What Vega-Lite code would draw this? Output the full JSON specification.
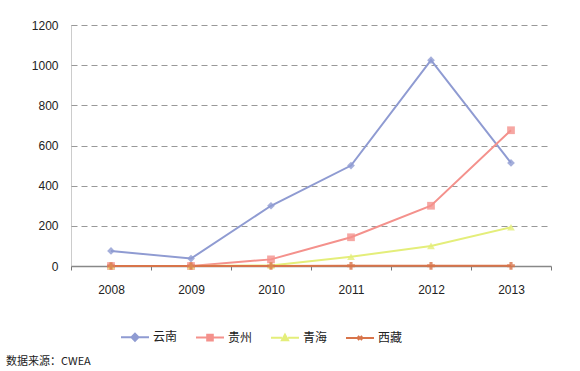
{
  "$schema": "https://vega.github.io/schema/vega-lite/v6.json",
  "width": 480,
  "height": 241,
  "autosize": {"type": "none"},
  "padding": {"left": 71, "top": 25, "right": 29, "bottom": 105},
  "background": "white",
  "config": {
    "font": "Liberation Sans",
    "view": {"stroke": null},
    "title": {"font": "Noto Sans CJK SC"}
  },
  "title": {
    "text": "数据来源：CWEA",
    "orient": "bottom",
    "anchor": "start",
    "frame": "group",
    "fontSize": 11,
    "fontWeight": "normal",
    "color": "#222",
    "offset": 11,
    "dx": -65
  },
  "data": {
    "values": [
      {"year": "2008", "region": "云南", "value": 75},
      {"year": "2009", "region": "云南", "value": 37},
      {"year": "2010", "region": "云南", "value": 300},
      {"year": "2011", "region": "云南", "value": 500},
      {"year": "2012", "region": "云南", "value": 1025},
      {"year": "2013", "region": "云南", "value": 513},
      {"year": "2008", "region": "贵州", "value": 0},
      {"year": "2009", "region": "贵州", "value": 0},
      {"year": "2010", "region": "贵州", "value": 33},
      {"year": "2011", "region": "贵州", "value": 143},
      {"year": "2012", "region": "贵州", "value": 300},
      {"year": "2013", "region": "贵州", "value": 676},
      {"year": "2008", "region": "青海", "value": 0},
      {"year": "2009", "region": "青海", "value": 0},
      {"year": "2010", "region": "青海", "value": 3},
      {"year": "2011", "region": "青海", "value": 46},
      {"year": "2012", "region": "青海", "value": 100},
      {"year": "2013", "region": "青海", "value": 193},
      {"year": "2008", "region": "西藏", "value": 0},
      {"year": "2009", "region": "西藏", "value": 0},
      {"year": "2010", "region": "西藏", "value": 0},
      {"year": "2011", "region": "西藏", "value": 1},
      {"year": "2012", "region": "西藏", "value": 1},
      {"year": "2013", "region": "西藏", "value": 1}
    ]
  },
  "encoding": {
    "x": {
      "field": "year",
      "type": "ordinal",
      "scale": {"type": "band", "paddingInner": 0, "paddingOuter": 0},
      "axis": {
        "title": null,
        "labelAngle": 0,
        "labelFontSize": 12,
        "labelColor": "#222",
        "labelPadding": 14,
        "tickBand": "extent",
        "tickSize": 4,
        "tickColor": "#777",
        "domainColor": "#888",
        "domainWidth": 1.5,
        "grid": false
      }
    },
    "y": {
      "field": "value",
      "type": "quantitative",
      "scale": {"domain": [0, 1200]},
      "axis": {
        "title": null,
        "values": [0, 200, 400, 600, 800, 1000, 1200],
        "format": "d",
        "labelFontSize": 12,
        "labelColor": "#222",
        "labelPadding": 13,
        "ticks": false,
        "domainColor": "#999",
        "domainDash": [1, 1],
        "grid": true,
        "gridColor": "#999",
        "gridDash": [6, 4],
        "gridWidth": 1
      }
    },
    "color": {
      "field": "region",
      "type": "nominal",
      "scale": {
        "domain": ["云南", "贵州", "青海", "西藏"],
        "range": ["#8f9bd2", "#f4918c", "#e4ee7a", "#d8744a"]
      }
    }
  },
  "resolve": {"legend": {"color": "independent"}},
  "layer": [
    {
      "mark": {"type": "line", "strokeWidth": 2},
      "encoding": {
        "color": {
          "field": "region",
          "type": "nominal",
          "scale": {
            "domain": ["云南", "贵州", "青海", "西藏"],
            "range": ["#8f9bd2", "#f4918c", "#e4ee7a", "#d8744a"]
          },
          "legend": {
            "title": null,
            "orient": "none",
            "direction": "horizontal",
            "legendX": 49,
            "legendY": 297,
            "labelFont": "Noto Sans CJK SC",
            "labelFontSize": 12,
            "labelColor": "#222",
            "labelOffset": 3,
            "columnPadding": 14,
            "symbolSize": 784,
            "symbolStrokeWidth": 2,
            "encode": {
              "symbols": {
                "update": {
                  "shape": {"signal": "datum.value === '云南' ? 'M-1,0H-0.25M0.25,0H1M0,-0.25L0.25,0L0,0.25L-0.25,0Z' : datum.value === '贵州' ? 'M-1,0H-0.2M0.2,0H1M-0.2,-0.2H0.2V0.2H-0.2Z' : datum.value === '青海' ? 'M-1,0H-0.22M0.22,0H1M0,-0.22L0.22,0.18H-0.22Z' : 'M-1,0H1M-0.15,-0.15L0.15,0.15M-0.15,0.15L0.15,-0.15'"},
                  "stroke": {"signal": "scale('color', datum.value)"},
                  "fill": {"signal": "scale('color', datum.value)"},
                  "strokeWidth": {"value": 2}
                }
              }
            }
          }
        }
      }
    },
    {
      "mark": {"type": "point", "filled": true, "size": 60, "opacity": 0.8, "strokeWidth": 1},
      "encoding": {
        "color": {
          "field": "region",
          "type": "nominal",
          "scale": {
            "domain": ["云南", "贵州", "青海", "西藏"],
            "range": ["#8f9bd2", "#f4918c", "#e4ee7a", "#d8744a"]
          },
          "legend": null
        },
        "shape": {
          "field": "region",
          "type": "nominal",
          "scale": {
            "domain": ["云南", "贵州", "青海", "西藏"],
            "range": ["diamond", "square", "triangle-up", "cross"]
          },
          "legend": null
        }
      }
    }
  ]
}
